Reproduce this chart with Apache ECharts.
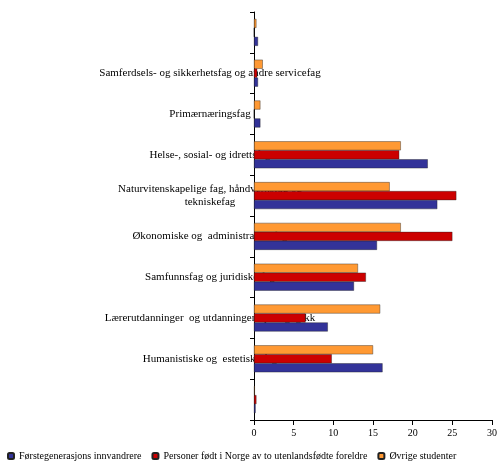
<!DOCTYPE html>
<html>
<head>
<meta charset="utf-8">
<script src="https://cdn.jsdelivr.net/npm/echarts@6/dist/echarts.min.js"></script>
<style>html,body{margin:0;padding:0;background:#fff}#main{width:500px;height:468px}</style>
</head>
<body>
<div id="main"></div>
<script>
// categories bottom to top
var categories = ['Allmenne fag', 'Humanistiske og  estetiske fag', 'Lærerutdanninger  og utdanninger i pedagogikk',
  'Samfunnsfag og juridiske fag', 'Økonomiske og  administrative fag', 'Naturvitenskapelige fag, håndverksfag og\ntekniskefag',
  'Helse-, sosial- og idrettsfag', 'Primærnæringsfag', 'Samferdsels- og sikkerhetsfag og andre servicefag', 'Uoppgitt fagfelt'];
var forste = [0.2, 16.2, 9.3, 12.6, 15.5, 23.1, 21.9, 0.8, 0.5, 0.5];
var fodtNorge = [0.3, 9.8, 6.5, 14.1, 25.0, 25.5, 18.3, 0, 0.4, 0];
var ovrige = [0.1, 15.0, 15.9, 13.1, 18.5, 17.1, 18.5, 0.8, 1.1, 0.3];
var xTicks = [0, 5, 10, 15, 20, 25, 30];

var myChart = echarts.init(document.getElementById('main'));
function bar(name, data, color) {
  return {
    name: name, type: 'bar', data: data, barGap: '0%', barCategoryGap: '34%',
    itemStyle: { color: color, borderColor: '#222', borderWidth: 0.4 }
  };
}
var option = {
  animation: false,
  textStyle: { fontFamily: 'Liberation Serif' },
  grid: { left: 254, right: 8, top: 12, bottom: 48 },
  legend: {
    bottom: 2, left: 2, itemWidth: 6, itemHeight: 6, itemGap: 10,
    textStyle: { fontFamily: 'Liberation Serif', fontSize: 10, color: '#000' },
    data: ['Førstegenerasjons innvandrere', 'Personer født i Norge av to utenlandsfødte foreldre', 'Øvrige studenter']
  },
  xAxis: {
    type: 'value', min: xTicks[0], max: xTicks[xTicks.length - 1], interval: 5,
    splitLine: { show: false },
    axisLine: { show: true, lineStyle: { color: '#000' } },
    axisTick: { show: true, lineStyle: { color: '#000' } },
    axisLabel: { color: '#000', fontSize: 10, fontFamily: 'Liberation Serif' }
  },
  yAxis: {
    type: 'category', data: categories,
    axisLine: { lineStyle: { color: '#000' } },
    axisTick: { show: true, length: 4, lineStyle: { color: '#000' } },
    axisLabel: {
      color: '#000', fontSize: 11, fontFamily: 'Liberation Serif', margin: 44,
      align: 'center', lineHeight: 13,
      padding: [0, 0, 44, 0]
    }
  },
  series: [
    bar('Øvrige studenter', ovrige, '#ff9933'),
    bar('Personer født i Norge av to utenlandsfødte foreldre', fodtNorge, '#cc0000'),
    bar('Førstegenerasjons innvandrere', forste, '#333399')
  ]
};
myChart.setOption(option);
</script>
</body>
</html>
